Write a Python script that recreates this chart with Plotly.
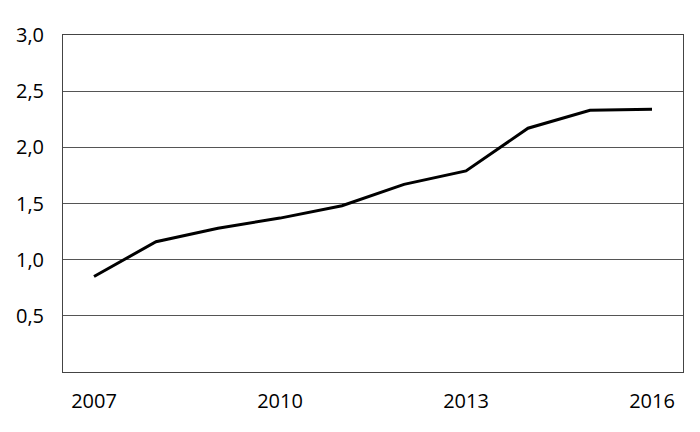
import plotly.graph_objects as go

years = ['2007', '2008', '2009', '2010', '2011', '2012', '2013', '2014', '2015', '2016']
values = [0.85, 1.16, 1.28, 1.37, 1.48, 1.67, 1.79, 2.17, 2.33, 2.34]
shown_years = ['2007', '2010', '2013', '2016']
y_ticks = [0.5, 1.0, 1.5, 2.0, 2.5, 3.0]

fig = go.Figure()
fig.add_trace(go.Scatter(
    x=years,
    y=values,
    mode='lines',
    line=dict(color='black', width=3),
    showlegend=False
))

# page body has an 8px margin, so the figure is a little smaller than the window
fig.update_layout(
    width=692,
    height=424,
    margin=dict(l=55, r=17, t=27, b=60, autoexpand=False),
    paper_bgcolor='white',
    plot_bgcolor='white',
    separators=', ',
    font=dict(family='Open Sans, sans-serif', size=20, color='black'),
    xaxis=dict(
        type='category',
        range=[-0.5, 9.5],
        tickmode='array',
        tickvals=shown_years,
        ticktext=shown_years,
        showgrid=False,
        showline=True,
        linecolor='#444',
        linewidth=1,
        mirror=True,
        ticks='outside',
        ticklen=11,
        tickcolor='rgba(0,0,0,0)',
        automargin=False,
    ),
    yaxis=dict(
        range=[0, 3.0],
        tickmode='array',
        tickvals=y_ticks,
        tickformat='.1f',
        showgrid=True,
        gridcolor='#555',
        gridwidth=1,
        zeroline=False,
        showline=True,
        linecolor='#444',
        linewidth=1,
        mirror=True,
        ticks='outside',
        ticklen=14,
        tickcolor='rgba(0,0,0,0)',
        automargin=False,
    ),
)

fig.write_html('out.html')
